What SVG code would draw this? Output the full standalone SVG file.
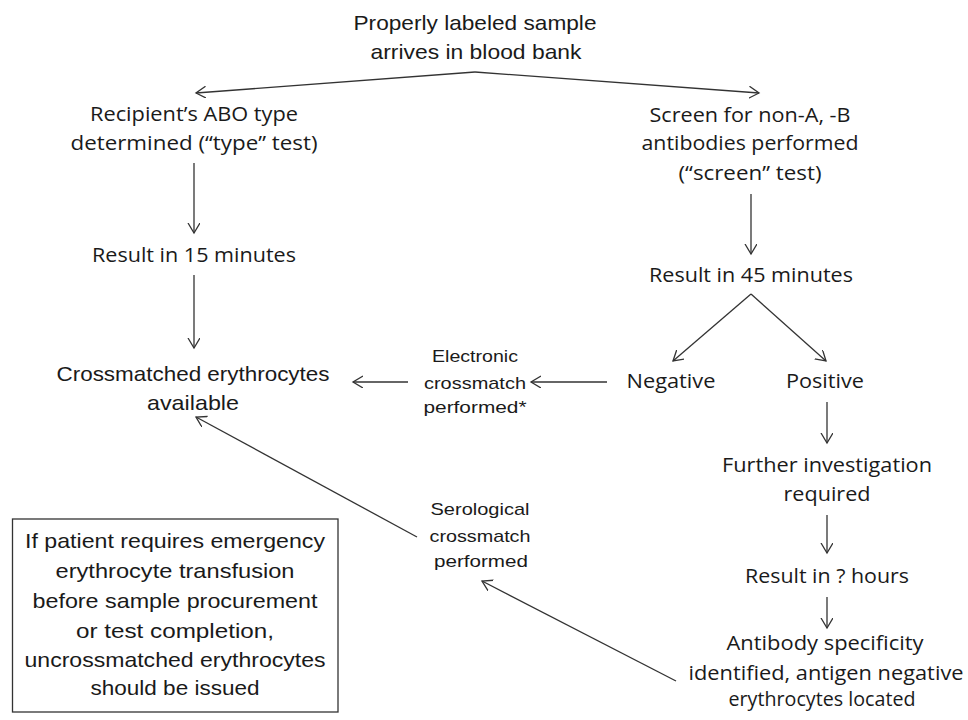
<svg xmlns="http://www.w3.org/2000/svg" width="968" height="720" viewBox="0 0 968 720">
<style>
.w{font-family:"Open Sans","Liberation Sans",sans-serif;font-size:20px;fill:#1a1a1a;text-anchor:middle}
.n{font-family:"Liberation Sans Narrow","Liberation Sans",sans-serif;font-size:21px;fill:#1a1a1a;text-anchor:middle}
.s{font-family:"Liberation Sans Narrow","Liberation Sans",sans-serif;font-size:17px;fill:#1a1a1a;text-anchor:middle}
.c{stroke:#333;stroke-width:1.3;fill:none;marker-end:url(#ah)}
</style>
<defs>
<marker id="ah" markerUnits="userSpaceOnUse" markerWidth="14" markerHeight="14" refX="10" refY="6" orient="auto">
<path d="M0,0 L10,6 L0,12" fill="none" stroke="#333" stroke-width="1.3"/>
</marker>
</defs>
<rect width="968" height="720" fill="#fff"/>
<g id="connectors">
<path class="c" d="M475,72 L196,93"/>
<path class="c" d="M475,72 L759,93"/>
<path class="c" d="M194,163 L194,233"/>
<path class="c" d="M194,275 L194,348"/>
<path class="c" d="M751,194 L751,254"/>
<path class="c" d="M751,294 L673,361"/>
<path class="c" d="M751,294 L826,361"/>
<path class="c" d="M607,382 L531,382"/>
<path class="c" d="M408,382 L353,382"/>
<path class="c" d="M827,402 L827,443"/>
<path class="c" d="M827,515 L827,553"/>
<path class="c" d="M827,597 L827,628"/>
<path class="c" d="M676,681 L482,581"/>
<path class="c" d="M417,537 L196,417"/>
</g>
<g id="start">
<text class="n" x="475" y="30" textLength="243" lengthAdjust="spacingAndGlyphs">Properly labeled sample</text>
<text class="n" x="476" y="59" textLength="211" lengthAdjust="spacingAndGlyphs">arrives in blood bank</text>
</g>
<g id="type-test">
<text class="w" x="194" y="121" textLength="208" lengthAdjust="spacingAndGlyphs">Recipient’s ABO type</text>
<text class="w" x="194" y="150" textLength="247" lengthAdjust="spacingAndGlyphs">determined (“type” test)</text>
</g>
<g id="screen-test">
<text class="w" x="750" y="122" textLength="201" lengthAdjust="spacingAndGlyphs">Screen for non-A, -B</text>
<text class="w" x="750" y="150" textLength="217" lengthAdjust="spacingAndGlyphs">antibodies performed</text>
<text class="w" x="750" y="180" textLength="143" lengthAdjust="spacingAndGlyphs">(“screen” test)</text>
</g>
<g id="result-15">
<text class="w" x="194" y="262" textLength="204" lengthAdjust="spacingAndGlyphs">Result in 15 minutes</text>
</g>
<g id="result-45">
<text class="w" x="751" y="282" textLength="204" lengthAdjust="spacingAndGlyphs">Result in 45 minutes</text>
</g>
<g id="crossmatched">
<text class="n" x="193" y="381" textLength="273" lengthAdjust="spacingAndGlyphs">Crossmatched erythrocytes</text>
<text class="n" x="193" y="410" textLength="92" lengthAdjust="spacingAndGlyphs">available</text>
</g>
<g id="electronic">
<text class="s" x="475" y="362" textLength="86" lengthAdjust="spacingAndGlyphs">Electronic</text>
<text class="s" x="475" y="389" textLength="102" lengthAdjust="spacingAndGlyphs">crossmatch</text>
<text class="s" x="475" y="413" textLength="103" lengthAdjust="spacingAndGlyphs">performed*</text>
</g>
<g id="negative">
<text class="w" x="671" y="388" textLength="89" lengthAdjust="spacingAndGlyphs">Negative</text>
</g>
<g id="positive">
<text class="w" x="825" y="388" textLength="78" lengthAdjust="spacingAndGlyphs">Positive</text>
</g>
<g id="further">
<text class="w" x="827" y="472" textLength="210" lengthAdjust="spacingAndGlyphs">Further investigation</text>
<text class="w" x="827" y="501" textLength="87" lengthAdjust="spacingAndGlyphs">required</text>
</g>
<g id="result-hours">
<text class="w" x="827" y="583" textLength="164" lengthAdjust="spacingAndGlyphs">Result in ? hours</text>
</g>
<g id="antibody">
<text class="w" x="825" y="650" textLength="197" lengthAdjust="spacingAndGlyphs">Antibody specificity</text>
<text class="w" x="826" y="680" textLength="275" lengthAdjust="spacingAndGlyphs">identified, antigen negative</text>
<text class="w" x="822" y="706" textLength="187" lengthAdjust="spacingAndGlyphs">erythrocytes located</text>
</g>
<g id="serological">
<text class="s" x="480" y="515" textLength="99" lengthAdjust="spacingAndGlyphs">Serological</text>
<text class="s" x="480" y="542" textLength="101" lengthAdjust="spacingAndGlyphs">crossmatch</text>
<text class="s" x="481" y="567" textLength="94" lengthAdjust="spacingAndGlyphs">performed</text>
</g>
<g id="emergency-note">
<rect x="12.5" y="519" width="325.5" height="193" fill="#fff" stroke="#333" stroke-width="1.3"/>
<text class="n" x="175" y="548" textLength="300" lengthAdjust="spacingAndGlyphs">If patient requires emergency</text>
<text class="n" x="175" y="578" textLength="239" lengthAdjust="spacingAndGlyphs">erythrocyte transfusion</text>
<text class="n" x="175" y="608" textLength="285" lengthAdjust="spacingAndGlyphs">before sample procurement</text>
<text class="n" x="175" y="638" textLength="198" lengthAdjust="spacingAndGlyphs">or test completion,</text>
<text class="n" x="175" y="667" textLength="301" lengthAdjust="spacingAndGlyphs">uncrossmatched erythrocytes</text>
<text class="n" x="175" y="695" textLength="169" lengthAdjust="spacingAndGlyphs">should be issued</text>
</g>
</svg>
